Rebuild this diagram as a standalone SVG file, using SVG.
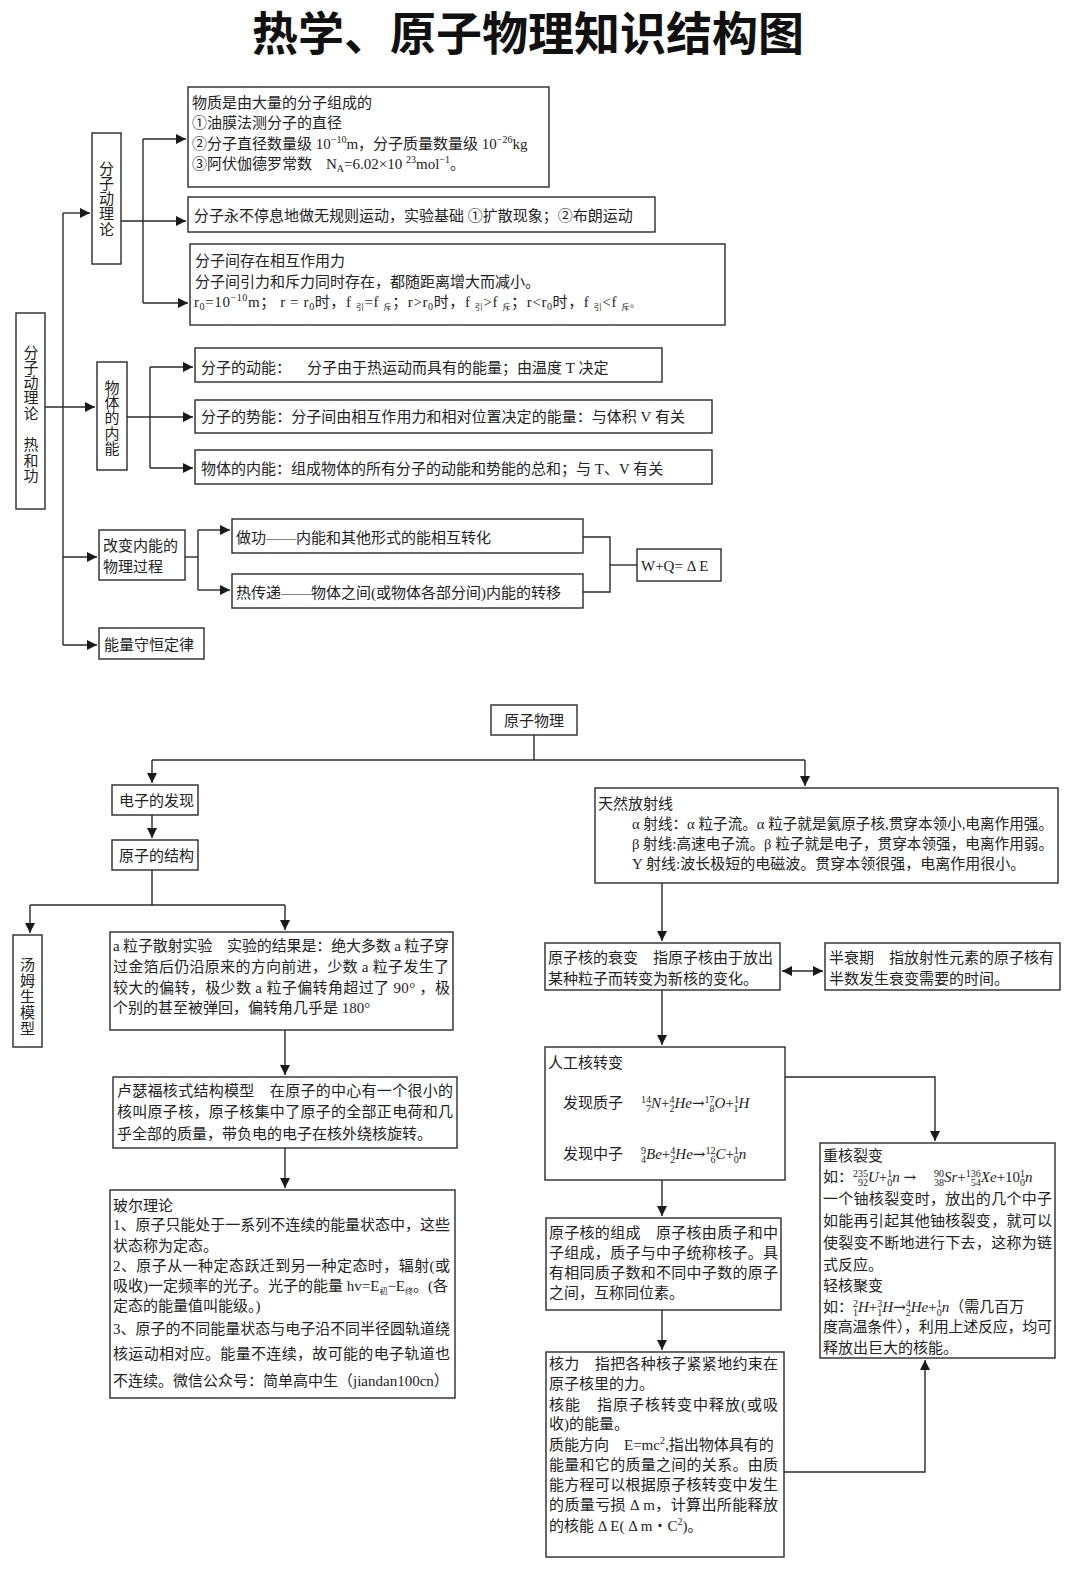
<svg xmlns="http://www.w3.org/2000/svg" width="1080" height="1579" viewBox="0 0 1080 1579">
<defs>
<style>
.b{fill:#fff;stroke:#2a2a2a;stroke-width:1.4}
.t{font-family:"Liberation Serif","Noto Sans CJK SC",serif;font-size:15px;fill:#222}
.v{font-family:"Liberation Serif","Noto Sans CJK SC",serif;font-size:15px;fill:#222;text-anchor:middle}
.c{fill:none;stroke:#2a2a2a;stroke-width:1.4}
.s{font-size:10px}
.i{font-style:italic}
.ar{font-family:"DejaVu Serif",serif;font-size:15px}
.title{font-family:"Noto Sans CJK SC","Noto Sans CJK JP",sans-serif;font-size:46px;font-weight:700;fill:#111;text-anchor:middle}
</style>
<marker id="a" viewBox="0 0 10 10" refX="10" refY="5" markerWidth="11" markerHeight="10" markerUnits="userSpaceOnUse" orient="auto-start-reverse"><path d="M0,0 L10,5 L0,10 z" fill="#1a1a1a"/></marker>
</defs>
<rect width="1080" height="1579" fill="#fff"/>
<text class="title" x="528" y="50" textLength="552" lengthAdjust="spacingAndGlyphs">热学、原子物理知识结构图</text>

<g id="connectors">
<path class="c" d="M45,407 H95" marker-end="url(#a)"/>
<path class="c" d="M63,213 V645"/>
<path class="c" d="M63,213 H90" marker-end="url(#a)"/>
<path class="c" d="M63,557 H97" marker-end="url(#a)"/>
<path class="c" d="M63,645 H97" marker-end="url(#a)"/>
<path class="c" d="M121,221 H186" marker-end="url(#a)"/>
<path class="c" d="M143,139 V303"/>
<path class="c" d="M143,139 H186" marker-end="url(#a)"/>
<path class="c" d="M143,303 H188" marker-end="url(#a)"/>
<path class="c" d="M127,417 H193" marker-end="url(#a)"/>
<path class="c" d="M150,367 V468"/>
<path class="c" d="M150,367 H193" marker-end="url(#a)"/>
<path class="c" d="M150,468 H193" marker-end="url(#a)"/>
<path class="c" d="M185,557 H198"/>
<path class="c" d="M198,530 V590"/>
<path class="c" d="M198,530 H230" marker-end="url(#a)"/>
<path class="c" d="M198,590 H230" marker-end="url(#a)"/>
<path class="c" d="M583,537 H610 V592 H583"/>
<path class="c" d="M610,565 H637"/>

<path class="c" d="M534,735 V760"/>
<path class="c" d="M152,760 H805"/>
<path class="c" d="M152,760 V783" marker-end="url(#a)"/>
<path class="c" d="M805,760 V786" marker-end="url(#a)"/>
<path class="c" d="M152,815 V838" marker-end="url(#a)"/>
<path class="c" d="M152,870 V905"/>
<path class="c" d="M30,905 H285"/>
<path class="c" d="M30,905 V933" marker-end="url(#a)"/>
<path class="c" d="M285,905 V930" marker-end="url(#a)"/>
<path class="c" d="M285,1030 V1075" marker-end="url(#a)"/>
<path class="c" d="M285,1148 V1188" marker-end="url(#a)"/>
<path class="c" d="M662,883 V941" marker-end="url(#a)"/>
<path class="c" d="M782,971 H823" marker-start="url(#a)" marker-end="url(#a)"/>
<path class="c" d="M662,990 V1045" marker-end="url(#a)"/>
<path class="c" d="M785,1077 H935 V1141" marker-end="url(#a)"/>
<path class="c" d="M662,1180 V1216" marker-end="url(#a)"/>
<path class="c" d="M662,1310 V1350" marker-end="url(#a)"/>
<path class="c" d="M784,1472 H925 V1360" marker-end="url(#a)"/>
</g>

<g id="n-root">
<rect class="b" x="16" y="313" width="29" height="196"/>
<text class="v"><tspan x="31" y="358">分</tspan><tspan x="31" y="373">子</tspan><tspan x="31" y="388">动</tspan><tspan x="31" y="403">理</tspan><tspan x="31" y="419">论</tspan><tspan x="31" y="450">热</tspan><tspan x="31" y="466">和</tspan><tspan x="31" y="481">功</tspan></text>
</g>

<g id="n-fzdll">
<rect class="b" x="92" y="133" width="29" height="131"/>
<text class="v"><tspan x="106.5" y="174">分</tspan><tspan x="106.5" y="189">子</tspan><tspan x="106.5" y="204">动</tspan><tspan x="106.5" y="219">理</tspan><tspan x="106.5" y="235">论</tspan></text>
</g>

<g id="n-wz">
<rect class="b" x="188" y="87" width="361" height="100"/>
<text class="t" x="192" y="107.5">物质是由大量的分子组成的</text>
<text class="t" x="192" y="127.5">①<tspan x="207">油膜法测分子的直径</tspan></text>
<text class="t" x="192" y="148.5">②<tspan x="207">分子直径数量级 10</tspan><tspan class="s" dy="-6">−10</tspan><tspan dy="6">m，分子质量数量级 10</tspan><tspan class="s" dy="-6">−26</tspan><tspan dy="6">kg</tspan></text>
<text class="t" x="192" y="168.5">③<tspan x="207">阿伏伽德罗常数</tspan><tspan x="326">N</tspan><tspan class="s" dy="3">A</tspan><tspan dy="-3">=6.02×10 </tspan><tspan class="s" dy="-6">23</tspan><tspan dy="6">mol</tspan><tspan class="s" dy="-6">−1</tspan><tspan dy="6">。</tspan></text>
</g>

<g id="n-yd">
<rect class="b" x="188" y="197" width="467" height="35"/>
<text class="t" x="194" y="220.5">分子永不停息地做无规则运动，实验基础 ①扩散现象；②布朗运动</text>
</g>

<g id="n-xhzy">
<rect class="b" x="190" y="244" width="535" height="81"/>
<text class="t" x="195" y="266">分子间存在相互作用力</text>
<text class="t" x="195" y="287">分子间引力和斥力同时存在，都随距离增大而减小。</text>
<text class="t" x="194" y="307" textLength="446" lengthAdjust="spacing">r<tspan font-size="10" dy="3">0</tspan><tspan dy="-3">=10</tspan><tspan font-size="10" dy="-6">−10</tspan><tspan dy="6">m；   r = r</tspan><tspan font-size="10" dy="3">0</tspan><tspan dy="-3">时，f </tspan><tspan font-size="8" dy="3">引</tspan><tspan dy="-3">=f </tspan><tspan font-size="8" dy="3">斥</tspan><tspan dy="-3">；r&gt;r</tspan><tspan font-size="10" dy="3">0</tspan><tspan dy="-3">时，f </tspan><tspan font-size="8" dy="3">引</tspan><tspan dy="-3">&gt;f </tspan><tspan font-size="8" dy="3">斥</tspan><tspan dy="-3">；r&lt;r</tspan><tspan font-size="10" dy="3">0</tspan><tspan dy="-3">时，f </tspan><tspan font-size="8" dy="3">引</tspan><tspan dy="-3">&lt;f </tspan><tspan font-size="8" dy="3">斥</tspan><tspan dy="-3" font-size="10">。</tspan></text>
</g>

<g id="n-wtnn">
<rect class="b" x="97" y="362" width="30" height="108"/>
<text class="v"><tspan x="112" y="393">物</tspan><tspan x="112" y="408">体</tspan><tspan x="112" y="423">的</tspan><tspan x="112" y="439">内</tspan><tspan x="112" y="454">能</tspan></text>
</g>

<g id="n-dn">
<rect class="b" x="195" y="348" width="467" height="34"/>
<text class="t" x="201" y="372.5">分子的动能：<tspan x="307">分子由于热运动而具有的能量；由温度 T 决定</tspan></text>
</g>
<g id="n-sn">
<rect class="b" x="195" y="400" width="517" height="33"/>
<text class="t" x="201" y="422" textLength="484" lengthAdjust="spacing">分子的势能：分子间由相互作用力和相对位置决定的能量：与体积 V 有关</text>
</g>
<g id="n-nn">
<rect class="b" x="195" y="450" width="517" height="34"/>
<text class="t" x="201" y="473.5">物体的内能：组成物体的所有分子的动能和势能的总和；与 T、V 有关</text>
</g>

<g id="n-gb">
<rect class="b" x="99" y="530" width="86" height="50"/>
<text class="t" x="103" y="550.5">改变内能的</text>
<text class="t" x="103" y="571.5">物理过程</text>
</g>
<g id="n-zg">
<rect class="b" x="232" y="519" width="351" height="34"/>
<text class="t" x="236" y="542.5">做功——内能和其他形式的能相互转化</text>
</g>
<g id="n-rcd">
<rect class="b" x="232" y="574" width="351" height="34"/>
<text class="t" x="236" y="597.5">热传递——物体之间(或物体各部分间)内能的转移</text>
</g>
<g id="n-wq">
<rect class="b" x="637" y="549" width="84" height="32"/>
<text class="t" x="641" y="570.5">W+Q= Δ E</text>
</g>
<g id="n-nlsh">
<rect class="b" x="99" y="628" width="105" height="31"/>
<text class="t" x="104" y="649.5">能量守恒定律</text>
</g>

<g id="n-yzwl">
<rect class="b" x="491" y="705" width="86" height="30"/>
<text class="t" x="504" y="725.5">原子物理</text>
</g>
<g id="n-dzfx">
<rect class="b" x="112" y="785" width="86" height="30"/>
<text class="t" x="119" y="805.5">电子的发现</text>
</g>
<g id="n-yzjg">
<rect class="b" x="112" y="840" width="86" height="30"/>
<text class="t" x="119" y="860.5">原子的结构</text>
</g>
<g id="n-tms">
<rect class="b" x="13" y="935" width="29" height="112"/>
<text class="v"><tspan x="27.5" y="970">汤</tspan><tspan x="27.5" y="986">姆</tspan><tspan x="27.5" y="1002">生</tspan><tspan x="27.5" y="1018">模</tspan><tspan x="27.5" y="1034">型</tspan></text>
</g>
<g id="n-alpha">
<rect class="b" x="110" y="932" width="343" height="98"/>
<text class="t" x="113" y="950.5" textLength="336" lengthAdjust="spacing">a 粒子散射实验　实验的结果是：绝大多数 a 粒子穿</text>
<text class="t" x="113" y="971.5" textLength="336" lengthAdjust="spacing">过金箔后仍沿原来的方向前进，少数 a 粒子发生了</text>
<text class="t" x="113" y="992.5" textLength="337" lengthAdjust="spacing">较大的偏转，极少数 a 粒子偏转角超过了 90° ，极</text>
<text class="t" x="113" y="1012.5">个别的甚至被弹回，偏转角几乎是 180°</text>
</g>
<g id="n-lsf">
<rect class="b" x="113" y="1077" width="344" height="71"/>
<text class="t" x="117" y="1095.5" textLength="336" lengthAdjust="spacing">卢瑟福核式结构模型　在原子的中心有一个很小的</text>
<text class="t" x="117" y="1116.5" textLength="336" lengthAdjust="spacing">核叫原子核，原子核集中了原子的全部正电荷和几</text>
<text class="t" x="117" y="1138.5">乎全部的质量，带负电的电子在核外绕核旋转。</text>
</g>
<g id="n-be">
<rect class="b" x="110" y="1190" width="345" height="208"/>
<text class="t" x="113" y="1210.5">玻尔理论</text>
<text class="t" x="113" y="1229.5" textLength="337" lengthAdjust="spacing">1、原子只能处于一系列不连续的能量状态中，这些</text>
<text class="t" x="113" y="1250.5">状态称为定态。</text>
<text class="t" x="113" y="1270.5" textLength="337" lengthAdjust="spacing">2、原子从一种定态跃迁到另一种定态时，辐射(或</text>
<text class="t" x="113" y="1290.5">吸收)一定频率的光子。光子的能量 hv=E<tspan font-size="8" dy="3">初</tspan><tspan dy="-3">−E</tspan><tspan font-size="8" dy="3">终</tspan><tspan dy="-3">。(各</tspan></text>
<text class="t" x="113" y="1310.5">定态的能量值叫能级。)</text>
<text class="t" x="113" y="1333.5" textLength="337" lengthAdjust="spacing">3、原子的不同能量状态与电子沿不同半径圆轨道绕</text>
<text class="t" x="113" y="1358.5" textLength="337" lengthAdjust="spacing">核运动相对应。能量不连续，故可能的电子轨道也</text>
<text class="t" x="113" y="1385.5">不连续。微信公众号：简单高中生（jiandan100cn）</text>
</g>

<g id="n-trfs">
<rect class="b" x="595" y="788" width="463" height="95"/>
<text class="t" x="598" y="808.5">天然放射线</text>
<text class="t" x="632" y="828.5" textLength="421" lengthAdjust="spacingAndGlyphs">α 射线：α 粒子流。α 粒子就是氦原子核,贯穿本领小,电离作用强。</text>
<text class="t" x="632" y="848.5" textLength="421" lengthAdjust="spacingAndGlyphs">β 射线:高速电子流。β 粒子就是电子，贯穿本领强，电离作用弱。</text>
<text class="t" x="632" y="868.5">Υ 射线:波长极短的电磁波。贯穿本领很强，电离作用很小。</text>
</g>
<g id="n-sb">
<rect class="b" x="545" y="943" width="235" height="47"/>
<text class="t" x="548" y="962.5">原子核的衰变　指原子核由于放出</text>
<text class="t" x="548" y="983.5">某种粒子而转变为新核的变化。</text>
</g>
<g id="n-bsq">
<rect class="b" x="825" y="943" width="235" height="47"/>
<text class="t" x="829" y="962.5">半衰期　指放射性元素的原子核有</text>
<text class="t" x="829" y="983.5">半数发生衰变需要的时间。</text>
</g>
<g id="n-rg">
<rect class="b" x="545" y="1047" width="240" height="133"/>
<text class="t" x="548" y="1067.5">人工核转变</text>
<text class="t" x="563" y="1107.5">发现质子<tspan x="641" class="s" dy="-5">14</tspan><tspan class="s" dx="-5" dy="9">7</tspan><tspan class="i" dy="-4">N</tspan>+<tspan class="s" dy="-5">4</tspan><tspan class="s" dx="-5" dy="9">2</tspan><tspan class="i" dy="-4">He</tspan><tspan class="ar">→</tspan><tspan class="s" dy="-5">17</tspan><tspan class="s" dx="-5" dy="9">8</tspan><tspan class="i" dy="-4">O</tspan>+<tspan class="s" dy="-5">1</tspan><tspan class="s" dx="-5" dy="9">1</tspan><tspan class="i" dy="-4">H</tspan></text>
<text class="t" x="563" y="1158.5">发现中子<tspan x="641" class="s" dy="-5">9</tspan><tspan class="s" dx="-5" dy="9">4</tspan><tspan class="i" dy="-4">Be</tspan>+<tspan class="s" dy="-5">4</tspan><tspan class="s" dx="-5" dy="9">2</tspan><tspan class="i" dy="-4">He</tspan><tspan class="ar">→</tspan><tspan class="s" dy="-5">12</tspan><tspan class="s" dx="-5" dy="9">6</tspan><tspan class="i" dy="-4">C</tspan>+<tspan class="s" dy="-5">1</tspan><tspan class="s" dx="-5" dy="9">0</tspan><tspan class="i" dy="-4">n</tspan></text>
</g>
<g id="n-zc">
<rect class="b" x="546" y="1218" width="235" height="92"/>
<text class="t" x="549" y="1237.5" textLength="229" lengthAdjust="spacing">原子核的组成　原子核由质子和中</text>
<text class="t" x="549" y="1257.5" textLength="229" lengthAdjust="spacing">子组成，质子与中子统称核子。具</text>
<text class="t" x="549" y="1277.5" textLength="229" lengthAdjust="spacing">有相同质子数和不同中子数的原子</text>
<text class="t" x="549" y="1297.5">之间，互称同位素。</text>
</g>
<g id="n-hl">
<rect class="b" x="546" y="1352" width="238" height="205"/>
<text class="t" x="549" y="1368.5" textLength="229" lengthAdjust="spacing">核力　指把各种核子紧紧地约束在</text>
<text class="t" x="549" y="1388.5">原子核里的力。</text>
<text class="t" x="549" y="1409.5" textLength="229" lengthAdjust="spacing">核能　指原子核转变中释放(或吸</text>
<text class="t" x="549" y="1428.5">收)的能量。</text>
<text class="t" x="549" y="1449.5">质能方向　E=mc<tspan class="s" dy="-6">2</tspan><tspan dy="6">,指出物体具有的</tspan></text>
<text class="t" x="549" y="1469.5" textLength="229" lengthAdjust="spacing">能量和它的质量之间的关系。由质</text>
<text class="t" x="549" y="1489.5" textLength="229" lengthAdjust="spacing">能方程可以根据原子核转变中发生</text>
<text class="t" x="549" y="1509.5" textLength="229" lengthAdjust="spacing">的质量亏损 Δ m，计算出所能释放</text>
<text class="t" x="549" y="1530.5">的核能 Δ E( Δ m・C<tspan class="s" dy="-6">2</tspan><tspan dy="6">)。</tspan></text>
</g>
<g id="n-lb">
<rect class="b" x="820" y="1143" width="235" height="215"/>
<text class="t" x="823" y="1160.5">重核裂变</text>
<text class="t" x="823" y="1181.5">如：<tspan class="s" dy="-5">235</tspan><tspan class="s" dx="-10" dy="9">92</tspan><tspan class="i" dy="-4">U</tspan>+<tspan class="s" dy="-5">1</tspan><tspan class="s" dx="-5" dy="9">0</tspan><tspan class="i" dy="-4">n</tspan> <tspan class="ar">→</tspan> <tspan class="s" x="934" dy="-5">90</tspan><tspan class="s" dx="-10" dy="9">38</tspan><tspan class="i" dy="-4">Sr</tspan>+<tspan class="s" dy="-5">136</tspan><tspan class="s" dx="-10" dy="9">54</tspan><tspan class="i" dy="-4">Xe</tspan>+10<tspan class="s" dy="-5">1</tspan><tspan class="s" dx="-5" dy="9">0</tspan><tspan class="i" dy="-4">n</tspan></text>
<text class="t" x="823" y="1203.5" textLength="229" lengthAdjust="spacing">一个铀核裂变时，放出的几个中子</text>
<text class="t" x="823" y="1225.5" textLength="229" lengthAdjust="spacing">如能再引起其他铀核裂变，就可以</text>
<text class="t" x="823" y="1247.5" textLength="229" lengthAdjust="spacing">使裂变不断地进行下去，这称为链</text>
<text class="t" x="823" y="1269.5">式反应。</text>
<text class="t" x="823" y="1290.5">轻核聚变</text>
<text class="t" x="823" y="1311.5">如：<tspan class="s" dy="-5">2</tspan><tspan class="s" dx="-5" dy="9">1</tspan><tspan class="i" dy="-4">H</tspan>+<tspan class="s" dy="-5">3</tspan><tspan class="s" dx="-5" dy="9">1</tspan><tspan class="i" dy="-4">H</tspan><tspan class="ar">→</tspan><tspan class="s" dy="-5">4</tspan><tspan class="s" dx="-5" dy="9">2</tspan><tspan class="i" dy="-4">He</tspan>+<tspan class="s" dy="-5">1</tspan><tspan class="s" dx="-5" dy="9">0</tspan><tspan class="i" dy="-4">n</tspan>（需几百万</text>
<text class="t" x="823" y="1331.5" textLength="229" lengthAdjust="spacing">度高温条件），利用上述反应，均可</text>
<text class="t" x="823" y="1352.5">释放出巨大的核能。</text>
</g>
</svg>
